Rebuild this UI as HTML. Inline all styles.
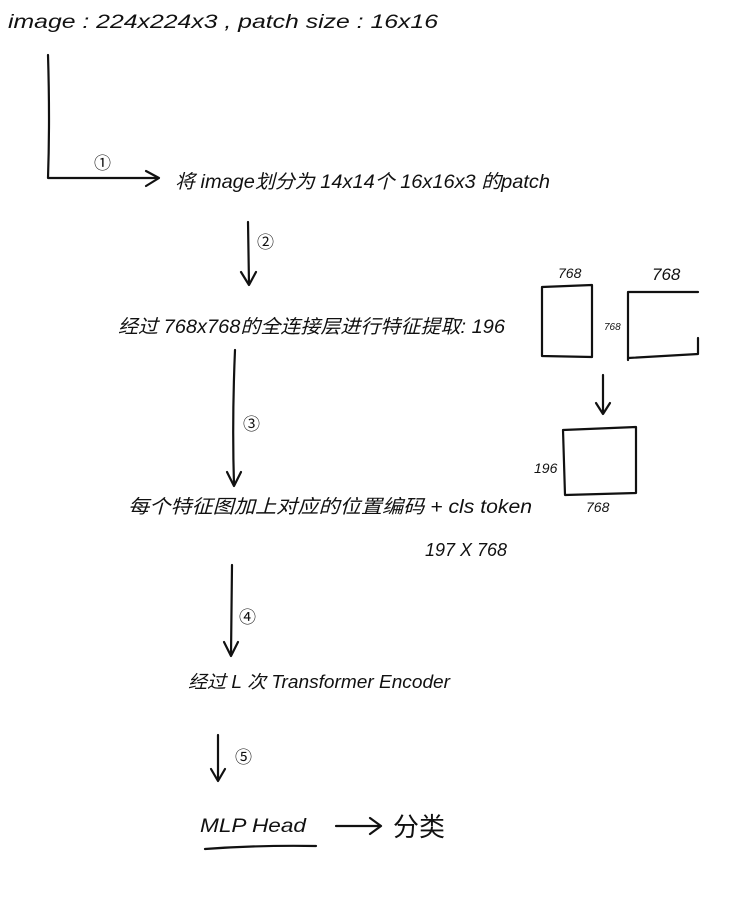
<!DOCTYPE html>
<html><head><meta charset="utf-8"><style>
html,body{margin:0;padding:0;background:#fff;}
svg{display:block}
text{font-family:"Liberation Sans","Noto Sans CJK SC",sans-serif;fill:#111;}
</style></head><body>
<svg width="734" height="920" viewBox="0 0 734 920" xmlns="http://www.w3.org/2000/svg">
<g stroke="#111" stroke-width="2.2" fill="none" stroke-linecap="round" stroke-linejoin="round">
<path d="M48 55 Q50 120 48 178 L158 178"/>
<path d="M146 171 L159 178 L146 186"/>
<path d="M248 222 L249 284"/><path d="M241 272 L249 285 L256 272"/>
<path d="M542 287 L592 285 L592 357 L542 356 Z"/>
<path d="M628 292 L698 292 M628 292 L628 360 M628 358 L698 354 L698 338"/>
<path d="M603 375 L603 413"/><path d="M596 403 L603 414 L610 403"/>
<path d="M563 430 L636 427 L636 493 L565 495 Z"/>
<path d="M235 350 Q232 420 234 485"/><path d="M227 472 L234 486 L241 472"/>
<path d="M232 565 L231 655"/><path d="M224 642 L231 656 L238 642"/>
<path d="M218 735 L218 780"/><path d="M211 769 L218 781 L225 769"/>
<path d="M205 849 Q260 845 316 846"/>
<path d="M336 826 L380 826"/><path d="M370 818 L381 826 L370 834"/>
</g>
<g font-size="17">
<text x="94" y="169">①</text>
<text x="257" y="248">②</text>
<text x="243" y="430">③</text>
<text x="239" y="623">④</text>
<text x="235" y="763">⑤</text>
</g>
<text x="8" y="28" font-size="19" font-style="italic" textLength="430" lengthAdjust="spacingAndGlyphs">image : 224x224x3 ,  patch  size : 16x16</text>
<text x="175" y="188" font-size="19" font-style="italic" textLength="375" lengthAdjust="spacingAndGlyphs">将 image划分为 14x14个  16x16x3 的patch</text>
<text x="118" y="333" font-size="19" font-style="italic" textLength="387" lengthAdjust="spacingAndGlyphs">经过 768x768的全连接层进行特征提取:  196</text>
<text x="558" y="278" font-size="14" font-style="italic">768</text>
<text x="652" y="280" font-size="17" font-style="italic">768</text>
<text x="604" y="330" font-size="10" font-style="italic">768</text>
<text x="534" y="473" font-size="14" font-style="italic">196</text>
<text x="586" y="512" font-size="14" font-style="italic">768</text>
<text x="128" y="513" font-size="19" font-style="italic" textLength="404" lengthAdjust="spacingAndGlyphs">每个特征图加上对应的位置编码 + cls token</text>
<text x="425" y="556" font-size="18" font-style="italic" textLength="82" lengthAdjust="spacingAndGlyphs">197 X 768</text>
<text x="188" y="688" font-size="18" font-style="italic" textLength="262" lengthAdjust="spacingAndGlyphs">经过 L 次 Transformer  Encoder</text>
<text x="200" y="832" font-size="19" font-style="italic" textLength="106" lengthAdjust="spacingAndGlyphs">MLP  Head</text>
<text x="393" y="836" font-size="26">分类</text>
</svg>
</body></html>
